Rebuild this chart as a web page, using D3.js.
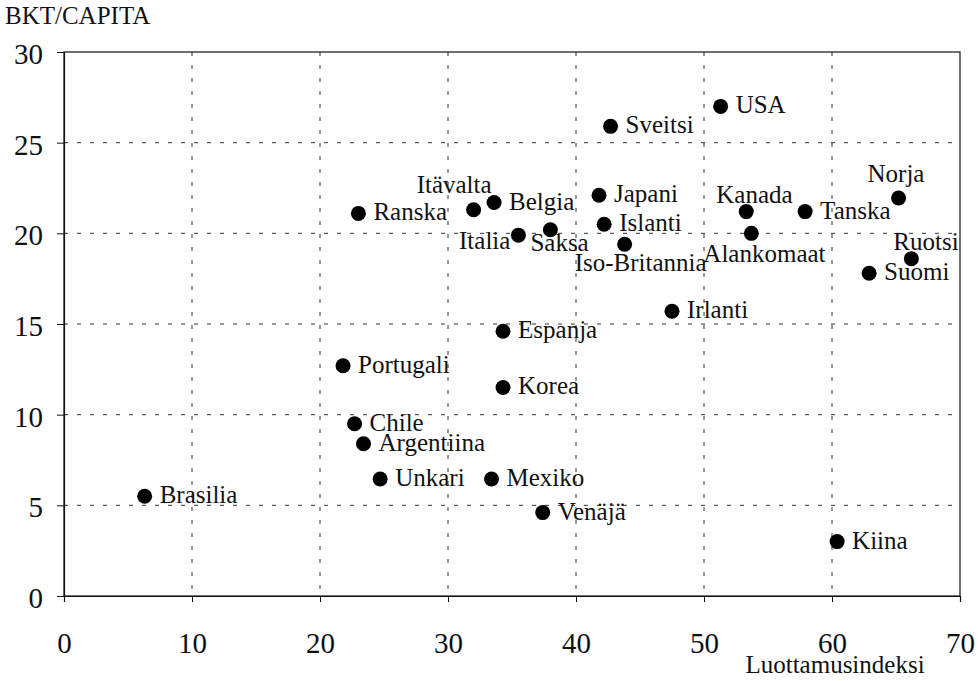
<!DOCTYPE html>
<html><head><meta charset="utf-8">
<script src="https://cdn.jsdelivr.net/npm/d3@7"></script>
<style>
body{margin:0;background:#fff;}
text{font-family:"Liberation Serif","Times New Roman",serif;fill:#111;}
</style></head>
<body>
<svg id="chart" width="978" height="681"></svg>
<script>
const countries = ["Brasilia","Chile","Argentiina","Unkari","Mexiko","Venäjä","Kiina","Korea","Portugali","Espanja","Irlanti","Suomi","Ruotsi","Norja","Tanska","Kanada","Alankomaat","USA","Sveitsi","Japani","Islanti","Iso-Britannia","Saksa","Italia","Belgia","Itävalta","Ranska"];
const trustIndex = [6.3,22.7,23.4,24.7,33.4,37.4,60.4,34.3,21.8,34.3,47.5,62.9,66.2,65.2,57.9,53.3,53.7,51.3,42.7,41.8,42.2,43.8,38.0,35.5,33.6,32.0,23.0];
const gdpPerCapita = [5.5,9.5,8.4,6.45,6.45,4.6,3.0,11.5,12.7,14.6,15.7,17.8,18.6,21.95,21.2,21.2,20.0,27.0,25.9,22.1,20.5,19.4,20.2,19.9,21.7,21.3,21.1];
const xTicks = [0,10,20,30,40,50,60,70];
const yTicks = [0,5,10,15,20,25,30];

// label placement (layout only)
const labelPlace = {
  "Itävalta":[18,-17,"end"], "Italia":[-8,14,"end"], "Saksa":[-20,21,"start"],
  "Iso-Britannia":[-50,27,"start"], "Alankomaat":[-48,29,"start"], "Kanada":[-30,-9,"start"],
  "Norja":[-31,-16,"start"], "Ruotsi":[-18,-9,"start"]
};

const svg = d3.select("#chart");
const L=64, R=960, T=52, B=596;
const x = d3.scaleLinear().domain([0,70]).range([L,R]);
const y = d3.scaleLinear().domain([0,30]).range([B,T]);

// grid
const g = svg.append("g");
g.selectAll("line.vg").data(xTicks.filter(d=>d>0&&d<70)).join("line")
  .attr("x1",d=>x(d)).attr("x2",d=>x(d)).attr("y1",T).attr("y2",B)
  .attr("stroke","#333").attr("stroke-width",1).attr("stroke-dasharray","4,9");
g.selectAll("line.hg").data(yTicks.filter(d=>d>0&&d<30)).join("line")
  .attr("x1",L).attr("x2",R).attr("y1",d=>y(d)).attr("y2",d=>y(d))
  .attr("stroke","#333").attr("stroke-width",1).attr("stroke-dasharray","4,9");

// frame
svg.append("rect").attr("x",L).attr("y",T).attr("width",R-L).attr("height",B-T)
  .attr("fill","none").attr("stroke","#111").attr("stroke-width",1.2);

// axes
const xAxis = d3.axisBottom(x).tickValues(xTicks).tickSize(6).tickPadding(30).tickFormat(d3.format("d"));
const yAxis = d3.axisLeft(y).tickValues(yTicks).tickSize(7).tickPadding(14).tickFormat(d3.format("d"));
const gx = svg.append("g").attr("transform",`translate(0,${B})`).call(xAxis);
const gy = svg.append("g").attr("transform",`translate(${L},0)`).call(yAxis);
[gx,gy].forEach(a=>{
  a.select(".domain").attr("stroke","#111").attr("stroke-width",1.2);
  a.selectAll(".tick line").attr("stroke","#111");
  a.selectAll(".tick text").attr("font-family","Liberation Serif").attr("font-size",29).attr("fill","#111");
});
gy.selectAll(".tick text").attr("dy","0.4em");
gx.selectAll(".tick text").attr("dy","0.72em");

// axis titles
svg.append("text").attr("x",5).attr("y",24).attr("font-size",25).text("BKT/CAPITA");
svg.append("text").attr("x",835).attr("y",673).attr("text-anchor","middle").attr("font-size",25).text("Luottamusindeksi");

// points
const data = countries.map((c,i)=>({c, xv:trustIndex[i], yv:gdpPerCapita[i]}));
svg.selectAll("circle.pt").data(data).join("circle")
  .attr("cx",d=>x(d.xv)).attr("cy",d=>y(d.yv)).attr("r",7.5).attr("fill","#000");
svg.selectAll("text.lbl").data(data).join("text")
  .attr("x",d=>x(d.xv)+(labelPlace[d.c]?labelPlace[d.c][0]:15))
  .attr("y",d=>y(d.yv)+(labelPlace[d.c]?labelPlace[d.c][1]:7))
  .attr("text-anchor",d=>labelPlace[d.c]?labelPlace[d.c][2]:"start")
  .attr("font-size",25).text(d=>d.c);
</script>
</body></html>
